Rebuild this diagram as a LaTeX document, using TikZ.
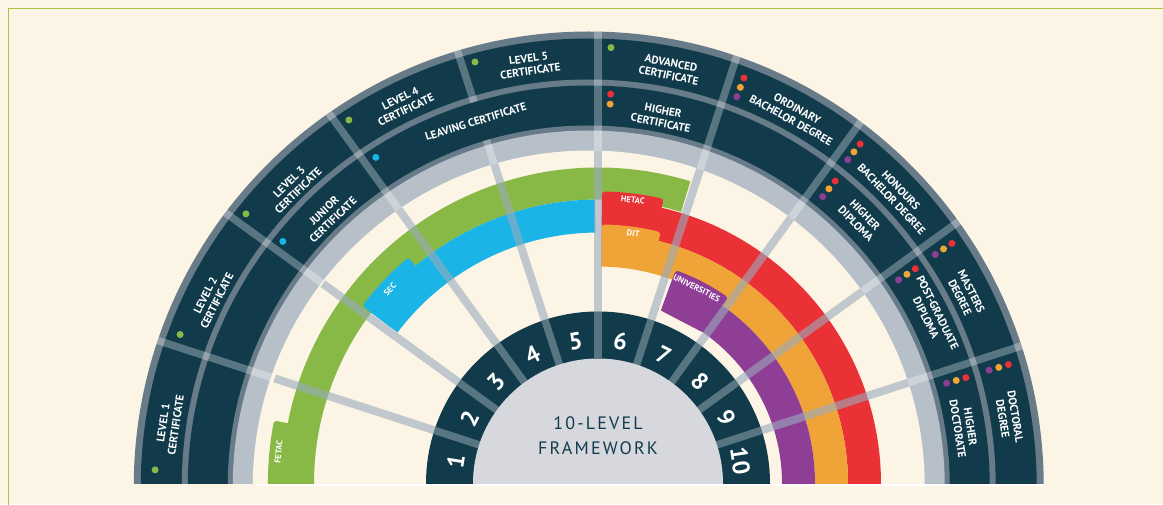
\documentclass[tikz,border=0pt]{standalone}
\usepackage{fontspec}
\setmainfont{PT Sans}
\usetikzlibrary{calc}
\definecolor{cream}{HTML}{FCF4E5}
\definecolor{navy}{HTML}{113B4B}
\definecolor{ringgrey}{HTML}{687B89}
\definecolor{bandgrey}{HTML}{B7C0C9}
\definecolor{hubgrey}{HTML}{D6D8DE}
\definecolor{spoke}{HTML}{9AABBD}
\definecolor{framegreen}{HTML}{A9C540}
\definecolor{fetac}{HTML}{88B946}
\definecolor{sec}{HTML}{1AB4E6}
\definecolor{hetac}{HTML}{EA3136}
\definecolor{dit}{HTML}{F0A337}
\definecolor{univ}{HTML}{8E3F95}
\newcommand{\ringband}[6]{\fill[#1] ($(#2)+(#3:#5pt)$) arc[start angle=#3,end angle=#4,radius=#5pt] -- ($(#2)+(#4:#6pt)$) arc[start angle=#4,end angle=#3,radius=#6pt] -- cycle;}
\newcommand{\ringtab}[6]{\fill[#1, rounded corners=3pt] ($(#2)+(#3:#5pt)$) -- ($(#2)+(#3:#6pt)$) arc[start angle=#3,end angle=#4,radius=#6pt] -- ($(#2)+(#4:#5pt)$) -- cycle;}

\begin{document}
\begin{tikzpicture}[
    x=1pt, y=1pt,
    lab/.style={text=white, font=\fontsize{11.2}{12.8}\selectfont\bfseries, align=center, inner sep=0pt},
    tablab/.style={text=white, font=\fontsize{8.5}{8.5}\selectfont\bfseries, inner sep=0pt},
    num/.style={text=white, font=\fontsize{24}{24}\selectfont\bfseries, inner sep=0pt},
    lightspoke/.style={white, opacity=.3, line width=7.5pt},
    creamspoke/.style={spoke, opacity=.6, line width=8pt}
]
    \useasboundingbox (0,0) rectangle (1163,504);
    \fill[cream] (0,0) rectangle (1163,504);
    \draw[framegreen, line width=1.5pt] (8.5,-20) |- (1200,495.5);
    \coordinate (ci) at (598,20.5);
    \coordinate (co) at (588.75,17.5);

    \begin{scope}
        \clip (0,20.5) rectangle (1163,504);
        \fill[ringgrey] (co) circle (455pt);
        \fill[navy] (co) circle (448pt);
        \fill[ringgrey] (co) circle (407pt);
        \fill[navy] (co) circle (401pt);
        \fill[ringgrey] (co) circle (361pt);
        \fill[bandgrey] (co) circle (356pt);
        \begin{scope}
            \clip (co) circle (455pt);
            \foreach \a in {18,36,54,72,90,126,144,162}
                \draw[lightspoke] ($(ci)+(\a:300pt)$) -- ($(ci)+(\a:470pt)$);
            \draw[lightspoke] ($(ci)+(108:300pt)$) -- ($(ci)+(108:361pt)$);
            \draw[lightspoke] ($(ci)+(108:401pt)$) -- ($(ci)+(108:470pt)$);
        \end{scope}
        \fill[cream] (co) circle (336pt);

        \ringband{fetac}{ci}{73}{182}{284}{316}
        \ringtab{fetac}{ci}{182}{169}{290}{330}
        \ringband{sec}{ci}{90.6}{143}{251}{284}
        \ringtab{sec}{ci}{143}{130}{255}{295}
        \ringband{hetac}{ci}{-2}{89.2}{250}{283}
        \ringtab{hetac}{ci}{89.2}{77}{255}{292}
        \ringband{dit}{ci}{-2}{89.2}{217}{250}
        \ringtab{dit}{ci}{89.2}{76}{222}{259}
        \ringband{univ}{ci}{-2}{70}{184}{217}
        \ringtab{univ}{ci}{70}{55}{184}{227}

        \begin{scope}
            \clip (co) circle (336pt);
            \foreach \a in {18,36,...,162}
                \draw[creamspoke] ($(ci)+(\a:160pt)$) -- ($(ci)+(\a:340pt)$);
        \end{scope}
        \fill[navy] (ci) circle (172pt);
        \fill[hubgrey] (ci) circle (125pt);
        \begin{scope}
            \clip (ci) circle (172pt);
            \foreach \a in {18,36,...,162}
                \draw[lightspoke] ($(ci)+(\a:125pt)$) -- ($(ci)+(\a:180pt)$);
        \end{scope}
    \end{scope}
    \fill[white] (257,18.5) rectangle (1043,20.5);

    \foreach \n in {1,...,10} {
        \pgfmathsetmacro\ang{180-18*(\n-0.5)}
        \node[num, rotate=\ang-90] (n\n) at ($(ci)+(\ang:144pt)$) {\n};
    }
    \node[text=navy, align=center, font=\fontsize{18}{25}\selectfont\addfontfeature{LetterSpace=12}] (hub) at (598,68) {10-LEVEL\\FRAMEWORK};

    \node[tablab, rotate=84.4] (fetactab) at ($(ci)+(174.4:321pt)$) {FETAC};
    \node[tablab, rotate=47] (sectab) at ($(ci)+(137:284.5pt)$) {SEC};
    \node[tablab, rotate=-7] (hetactab) at ($(ci)+(83:285.5pt)$) {HETAC};
    \node[tablab, rotate=-8] (dittab) at ($(ci)+(82:252.5pt)$) {DIT};
    \node[tablab, rotate=-26.8] (univtab) at ($(ci)+(63.2:219pt)$) {UNIVERSITIES};

    \node[lab, rotate=81.5] (lvl1) at ($(co)+(171.5:424pt)$) {LEVEL 1\\CERTIFICATE};
    \node[lab, rotate=63.5] (lvl2) at ($(co)+(153.5:422pt)$) {LEVEL 2\\CERTIFICATE};
    \node[lab, rotate=44.5] (lvl3) at ($(co)+(134.5:421pt)$) {LEVEL 3\\CERTIFICATE};
    \node[lab, rotate=25.9] (lvl4) at ($(co)+(115.9:425pt)$) {LEVEL 4\\CERTIFICATE};
    \node[lab, rotate=8] (lvl5) at ($(co)+(98:426pt)$) {LEVEL 5\\CERTIFICATE};
    \node[lab, rotate=-11] (adv) at ($(co)+(79:425pt)$) {ADVANCED\\CERTIFICATE};
    \node[lab, rotate=-28.9] (ord) at ($(co)+(61.1:425pt)$) {ORDINARY\\BACHELOR DEGREE};
    \node[lab, rotate=-46.5] (hon) at ($(co)+(43.5:424pt)$) {HONOURS\\BACHELOR DEGREE};
    \node[lab, rotate=-63] (mas) at ($(co)+(27:423pt)$) {MASTERS\\DEGREE};
    \node[lab, rotate=-80.7] (doc) at ($(co)+(9.3:426pt)$) {DOCTORAL\\DEGREE};

    \node[lab, rotate=43.8] (jun) at ($(co)+(133.8:376pt)$) {JUNIOR\\CERTIFICATE};
    \node[lab, rotate=17.2] (leav) at ($(co)+(107.2:382pt)$) {LEAVING CERTIFICATE};
    \node[lab, rotate=-11.2] (hcert) at ($(co)+(78.8:377pt)$) {HIGHER\\CERTIFICATE};
    \node[lab, rotate=-45.5] (hdip) at ($(co)+(44.5:381pt)$) {HIGHER\\DIPLOMA};
    \node[lab, rotate=-63.5] (pgd) at ($(co)+(26.5:383.5pt)$) {POST-GRADUATE\\DIPLOMA};
    \node[lab, rotate=-81.1] (hdoc) at ($(co)+(8.9:380pt)$) {HIGHER\\DOCTORATE};

    \foreach \a/\rad in {177.8/434, 159.6/436, 141.5/438, 123.2/438, 105/439.5, 87.1/439.5}
        \fill[fetac] ($(co)+(\a:\rad pt)$) circle (3.5pt);
    \foreach \a in {141.3, 122.9}
        \fill[sec] ($(co)+(\a:392pt)$) circle (3.5pt);
    \fill[hetac] ($(co)+(86.8:393pt)$) circle (3.5pt);
    \fill[dit] ($(co)+(86.8:383pt)$) circle (3.5pt);
    \foreach \a in {69.2, 51.6, 33.8, 16.2} {
        \fill[hetac] ($(co)+(\a:437pt)$) circle (3.5pt);
        \fill[dit] ($(co)+(\a:427pt)$) circle (3.5pt);
        \fill[univ] ($(co)+(\a:417pt)$) circle (3.5pt);
    }
    \foreach \a in {51.1, 33.7, 16.1} {
        \fill[hetac] ($(co)+(\a:392.5pt)$) circle (3.5pt);
        \fill[dit] ($(co)+(\a:382.5pt)$) circle (3.5pt);
        \fill[univ] ($(co)+(\a:372.5pt)$) circle (3.5pt);
    }
\end{tikzpicture}
\end{document}
